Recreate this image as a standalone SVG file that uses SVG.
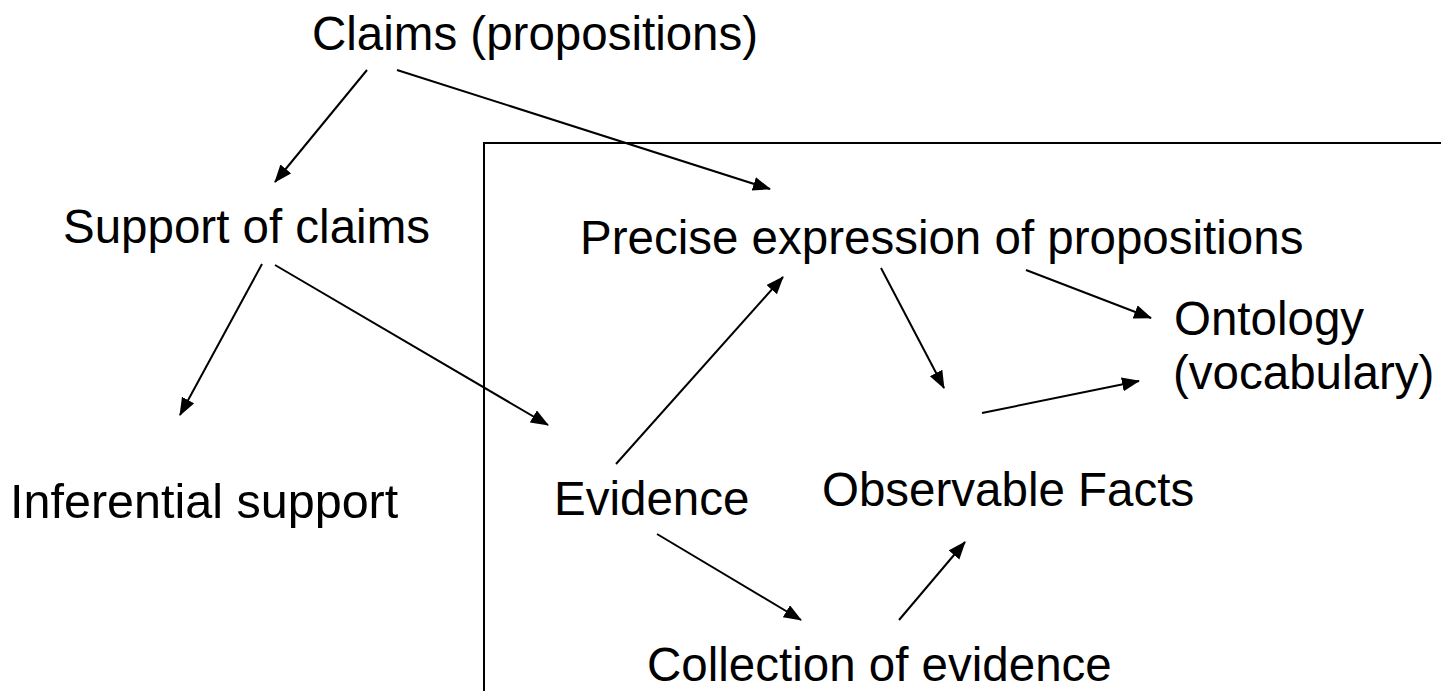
<svg xmlns="http://www.w3.org/2000/svg" width="1441" height="691" viewBox="0 0 1441 691">
<style>
text{font-family:"Liberation Sans",Arial,sans-serif;font-size:47.5px;fill:#000}
.c line{stroke:#000;stroke-width:2;marker-end:url(#ah)}
</style>
<defs>
<marker id="ah" markerUnits="userSpaceOnUse" markerWidth="20" markerHeight="16" refX="17" refY="7" orient="auto">
<path d="M0,0 L18,7 L0,14 Z" fill="#000"/>
</marker>
</defs>
<rect width="1441" height="691" fill="#fff"/>
<path d="M484,691 V143 H1441" fill="none" stroke="#000" stroke-width="2"/>
<g id="claims"><text x="312" y="50">Claims (propositions)</text></g>
<g id="support"><text x="63" y="243">Support of claims</text></g>
<g id="precise"><text x="580" y="254">Precise expression of propositions</text></g>
<g id="ontology"><text x="1174" y="335">Ontology</text><text x="1173" y="389">(vocabulary)</text></g>
<g id="inferential"><text x="10" y="518" style="font-size:48.5px">Inferential support</text></g>
<g id="evidence"><text x="554" y="515">Evidence</text></g>
<g id="observable"><text x="822" y="506">Observable Facts</text></g>
<g id="collection"><text x="647" y="681">Collection of evidence</text></g>
<g class="c" id="connectors">
<line x1="367" y1="70" x2="275" y2="182"/>
<line x1="397" y1="70" x2="770" y2="189"/>
<line x1="262" y1="264" x2="180" y2="415"/>
<line x1="275" y1="265" x2="548" y2="425"/>
<line x1="616" y1="464" x2="783" y2="277"/>
<line x1="657" y1="534" x2="801" y2="620"/>
<line x1="899" y1="620" x2="965" y2="542"/>
<line x1="881" y1="268" x2="944" y2="388"/>
<line x1="1026" y1="270" x2="1151" y2="318"/>
<line x1="982" y1="413" x2="1139" y2="381"/>
</g>
</svg>
